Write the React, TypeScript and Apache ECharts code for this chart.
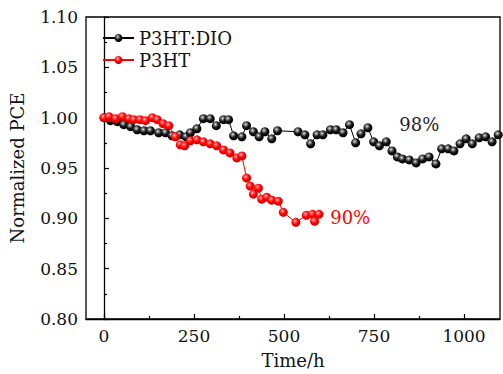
import React, { useEffect, useRef } from "react";
import * as echarts from "echarts";

const dioTime = [0, 18, 37, 55, 74, 92, 111, 129, 152, 171, 189, 210, 228, 240, 258, 276, 295, 312, 332, 346, 360, 383, 396, 415, 431, 447, 466, 482, 539, 558, 574, 592, 608, 629, 645, 664, 682, 699, 714, 733, 749, 765, 784, 800, 815, 829, 848, 867, 885, 903, 922, 938, 956, 972, 989, 1006, 1023, 1042, 1060, 1078, 1095];
const dioPCE = [1.0, 0.997, 0.996, 0.993, 0.991, 0.988, 0.987, 0.987, 0.985, 0.985, 0.982, 0.983, 0.981, 0.985, 0.989, 0.999, 0.999, 0.992, 0.998, 0.998, 0.982, 0.981, 0.992, 0.986, 0.981, 0.986, 0.979, 0.987, 0.986, 0.983, 0.974, 0.983, 0.983, 0.988, 0.988, 0.985, 0.993, 0.975, 0.984, 0.99, 0.976, 0.972, 0.976, 0.967, 0.961, 0.959, 0.958, 0.955, 0.959, 0.961, 0.954, 0.969, 0.969, 0.967, 0.974, 0.979, 0.974, 0.98, 0.981, 0.976, 0.983];

const p3htTime = [0, 14, 32, 51, 69, 83, 100, 115, 134, 148, 164, 180, 198, 212, 224, 240, 258, 276, 295, 313, 332, 350, 369, 383, 396, 406, 415, 429, 438, 452, 466, 484, 498, 533, 562, 579, 585, 597];
const p3htPCE = [1.0, 1.001, 0.999, 1.001, 0.999, 0.998, 0.998, 0.997, 1.0, 0.998, 0.994, 0.992, 0.981, 0.973, 0.972, 0.977, 0.978, 0.976, 0.974, 0.972, 0.968, 0.965, 0.96, 0.962, 0.94, 0.932, 0.924, 0.93, 0.919, 0.921, 0.918, 0.917, 0.906, 0.896, 0.903, 0.904, 0.897, 0.904];

const seriesNames = ["P3HT:DIO", "P3HT"];
const xMajorTicks = [0, 250, 500, 750, 1000];
const xMinorTicks = [125, 375, 625, 875];
const annotations = [
  { text: "98%", t: 876, v: 0.9933 },
  { text: "90%", t: 627, v: 0.9006 },
];

const FONT = "'DejaVu Serif', 'Liberation Serif', serif";

function ball(stops: [number, string][]) {
  return {
    type: "radial",
    x: 0.4,
    y: 0.35,
    r: 0.65,
    colorStops: stops.map(([offset, color]) => ({ offset, color })),
  } as any;
}

export default function App() {
  const ref = useRef<HTMLDivElement>(null);
  useEffect(() => {
    if (!ref.current) return;
    const chart = echarts.init(ref.current, null, { renderer: "svg" });
    const dio = dioTime.map((t, i) => [t, dioPCE[i]]);
    const p3 = p3htTime.map((t, i) => [t, p3htPCE[i]]);
    const blackBall = ball([[0, "#f0f0f0"], [0.2, "#888888"], [0.55, "#151515"], [1, "#000000"]]);
    const redBall = ball([[0, "#ffe0e0"], [0.2, "#ff6060"], [0.55, "#ff0000"], [1, "#d00000"]]);
    chart.setOption({
      animation: false,
      grid: {
        left: 85,
        right: 3,
        top: 17,
        bottom: 54,
        show: true,
        borderColor: "#000",
        borderWidth: 1.3,
        backgroundColor: "transparent",
      },
      legend: {
        orient: "vertical",
        left: 102,
        top: 29,
        padding: 0,
        itemWidth: 31,
        itemHeight: 10,
        itemGap: 4,
        textStyle: { fontFamily: FONT, fontSize: 18, color: "#111" },
        data: seriesNames,
      },
      xAxis: [
        {
          type: "value",
          min: -50,
          max: 1100,
          position: "bottom",
          name: "Time/h",
          nameLocation: "middle",
          nameGap: 32,
          nameTextStyle: { fontFamily: FONT, fontSize: 18, color: "#111" },
          axisLine: { show: true, lineStyle: { color: "#000", width: 1.3 } },
          axisTick: {
            show: true,
            inside: true,
            length: 5,
            customValues: xMajorTicks,
            lineStyle: { color: "#000", width: 1.2 },
          },
          axisLabel: {
            customValues: xMajorTicks,
            fontFamily: FONT,
            fontSize: 17,
            color: "#111",
            margin: 8,
            formatter: (v: number) => String(v),
          },
          splitLine: { show: false },
        },
        {
          type: "value",
          min: -50,
          max: 1100,
          position: "bottom",
          axisLine: { show: false },
          axisTick: {
            show: true,
            inside: true,
            length: 3,
            customValues: xMinorTicks,
            lineStyle: { color: "#000", width: 1.2 },
          },
          axisLabel: { show: false },
          splitLine: { show: false },
        },
      ],
      yAxis: {
        type: "value",
        min: 0.8,
        max: 1.1,
        interval: 0.05,
        name: "Normalized PCE",
        nameLocation: "middle",
        nameGap: 60,
        nameTextStyle: { fontFamily: FONT, fontSize: 18, color: "#111" },
        axisLine: { show: true, lineStyle: { color: "#000", width: 1.3 } },
        axisTick: { show: true, inside: true, length: 5, lineStyle: { color: "#000", width: 1.2 } },
        minorTick: { show: true, splitNumber: 2, length: 3, lineStyle: { color: "#000", width: 1.2 } },
        axisLabel: {
          fontFamily: FONT,
          fontSize: 17,
          color: "#111",
          margin: 8,
          formatter: (v: number) => v.toFixed(2),
        },
        splitLine: { show: false },
      },
      series: [
        {
          name: seriesNames[0],
          type: "line",
          data: dio,
          symbol: "circle",
          symbolSize: 9,
          z: 2,
          lineStyle: { color: "#000", width: 1 },
          itemStyle: { color: blackBall },
          markPoint: {
            symbol: "circle",
            symbolSize: 1,
            itemStyle: { color: "rgba(0,0,0,0)" },
            label: {
              show: true,
              position: "inside",
              fontFamily: FONT,
              fontSize: 18,
              color: "#222",
              formatter: annotations[0].text,
            },
            data: [{ coord: [annotations[0].t, annotations[0].v] }],
          },
        },
        {
          name: seriesNames[1],
          type: "line",
          data: p3,
          symbol: "circle",
          symbolSize: 9,
          z: 3,
          lineStyle: { color: "#ff0000", width: 1 },
          itemStyle: { color: redBall },
          markPoint: {
            symbol: "circle",
            symbolSize: 1,
            itemStyle: { color: "rgba(0,0,0,0)" },
            label: {
              show: true,
              position: "right",
              distance: 0,
              fontFamily: FONT,
              fontSize: 18,
              color: "#ff0000",
              formatter: annotations[1].text,
            },
            data: [{ coord: [annotations[1].t, annotations[1].v] }],
          },
        },
      ],
    });
    return () => chart.dispose();
  }, []);
  return <div ref={ref} style={{ width: 503, height: 374, position: "absolute", left: 0, top: 0 }} />;
}
